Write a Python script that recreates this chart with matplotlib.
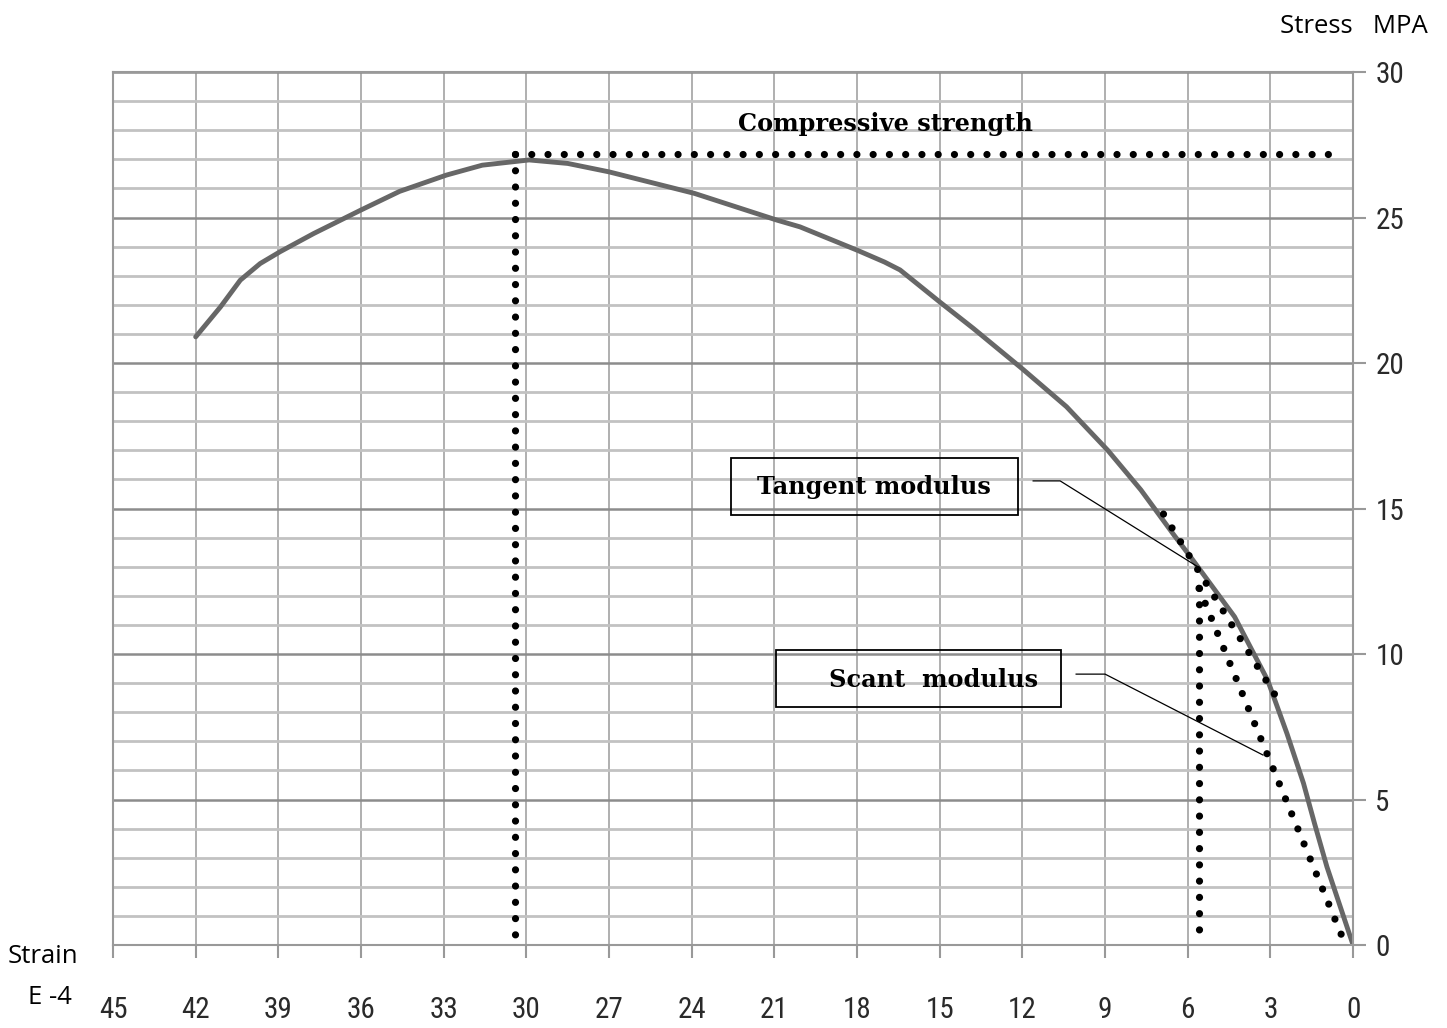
import matplotlib.pyplot as plt
from matplotlib.patches import Rectangle
import numpy as np

# stress-strain curve (strain in E-4, stress in MPa)
strain = [42.0, 41.1, 40.38, 39.66, 38.93, 37.72, 36.0, 34.6, 32.9, 31.6, 29.9, 28.5,
          27.0, 23.9, 20.9, 20.07, 18.0, 17.0, 16.44, 15.0, 13.78, 12.0, 10.4, 8.9, 7.7,
          6.5, 5.9, 4.3, 3.1, 2.4, 1.8, 1.4, 0.95, 0.0]
stress = [20.9, 21.93, 22.85, 23.42, 23.83, 24.45, 25.26, 25.9, 26.46, 26.8, 26.98, 26.86,
          26.57, 25.83, 24.91, 24.68, 23.88, 23.47, 23.2, 22.1, 21.19, 19.8, 18.5, 17.0, 15.64,
          14.09, 13.34, 11.28, 9.1, 7.27, 5.56, 4.18, 2.69, 0.0]

# dotted construction lines
peak_x, peak_y = 30.4, 27.17
strength_end_x = 0.88
tangent_x = [6.88, 2.83]
tangent_y = [14.81, 8.59]
drop_x = [5.59, 5.59]
drop_y = [12.26, 0.52]
secant_x = [5.59, 0.42]
secant_y = [12.26, 0.34]

# callouts
tangent_leader_x = [11.61, 10.63, 5.62]
tangent_leader_y = [15.95, 15.95, 12.99]
secant_leader_x = [10.05, 9.0, 3.27]
secant_leader_y = [9.31, 9.31, 6.53]

x_ticks = list(range(0, 46, 3))
y_ticks = list(range(0, 31, 5))

fig = plt.figure(figsize=(14.47, 10.28), dpi=100)
ax = fig.add_axes([0.0781, 0.0807, 0.857, 0.8492])
ax.set_xlim(45, 0)
ax.set_ylim(0, 30)
ax.set_axisbelow(True)

ax.set_xticks(x_ticks)
ax.set_yticks(y_ticks)
ax.set_yticks(range(0, 31), minor=True)
ax.yaxis.tick_right()
ax.tick_params(axis='y', which='minor', length=0)
ax.tick_params(axis='y', which='major', direction='out', length=9, width=1.5,
               color='#999999', pad=7, labelsize=21, labelcolor='#2a2a2a')
ax.tick_params(axis='x', which='major', direction='out', length=9, width=1.5,
               color='#999999', pad=28, labelsize=21, labelcolor='#2a2a2a')
for lab in ax.get_xticklabels() + ax.get_yticklabels():
    lab.set_family(['Roboto Condensed', 'Liberation Sans Narrow', 'Liberation Sans'])
    lab.set_fontstretch('condensed')

ax.yaxis.grid(True, which='minor', color='#c2c2c2', linewidth=2.0)
ax.yaxis.grid(True, which='major', color='#8c8c8c', linewidth=1.8)
ax.xaxis.grid(True, which='major', color='#9a9a9a', linewidth=1.1)
for s in ax.spines.values():
    s.set_color('#999999')
    s.set_linewidth(1.5)

ax.plot(strain, stress, color='#676767', linewidth=3.5, solid_joinstyle='round',
        solid_capstyle='round')

dots = dict(color='black', linewidth=5.2, linestyle=(0, (0.001, 2.25)),
            dash_capstyle='round')
ax.plot([peak_x, strength_end_x], [peak_y, peak_y], **dots)
ax.plot([peak_x, peak_x], [peak_y, 0], **dots)
ax.plot(tangent_x, tangent_y, **dots)
ax.plot(drop_x, drop_y, **dots)
ax.plot(secant_x, secant_y, **dots)

ax.plot(tangent_leader_x, tangent_leader_y, color='black', linewidth=0.9)
ax.plot(secant_leader_x, secant_leader_y, color='black', linewidth=0.9)

ax.add_patch(Rectangle((22.57, 14.78), -10.41, 1.96, fill=False, edgecolor='black', linewidth=1.3))
ax.add_patch(Rectangle((20.94, 8.18), -10.34, 1.96, fill=False, edgecolor='black', linewidth=1.3))
bold = dict(family='DejaVu Serif', fontweight='bold', fontsize=17.3)
ax.text(17.38, 15.74, 'Tangent modulus', ha='center', va='center', **bold)
ax.text(15.24, 9.11, 'Scant  modulus', ha='center', va='center', **bold)
t = ax.text(16.98, 27.97, 'Compressive strength', ha='center', va='baseline', **bold)
t.set_clip_path(Rectangle((45, 27.97), -45, 3, transform=ax.transData))

side = dict(family='Open Sans', fontsize=18.5, color='black')
fig.text(0.0055, 0.0632, 'Strain', ha='left', va='baseline', **side)
fig.text(0.0195, 0.0233, 'E -4', ha='left', va='baseline', **side)
fig.text(0.987, 0.9679, 'Stress   MPA', ha='right', va='baseline', **side)

fig.savefig('out.png', dpi=100)
